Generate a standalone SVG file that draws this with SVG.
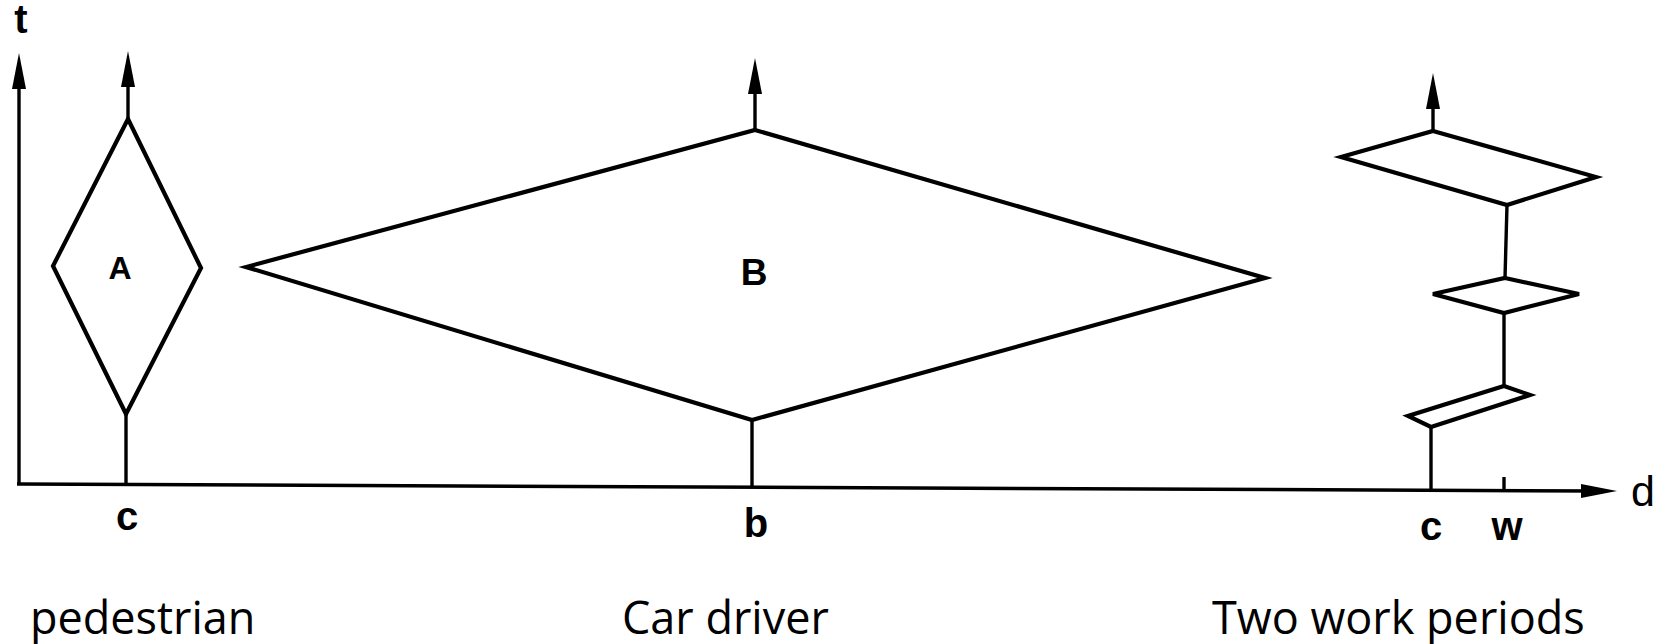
<svg xmlns="http://www.w3.org/2000/svg" width="1666" height="644" viewBox="0 0 1666 644">
  <style>
    .shape { fill: none; stroke: #000; stroke-width: 4.2; stroke-linejoin: miter; }
    .conn { fill: none; stroke: #000; stroke-width: 3.4; }
    .arrow { marker-end: url(#arr); }
    .lbl { font-family: "Liberation Sans", Arial, sans-serif; font-weight: bold; fill: #000; text-anchor: middle; }
    .cap { font-family: "Open Sans", "Noto Sans", sans-serif; font-size: 45px; fill: #000; }
  </style>
  <defs>
    <marker id="arr" viewBox="0 0 36 16" refX="16" refY="8" markerWidth="36" markerHeight="16" markerUnits="userSpaceOnUse" orient="auto">
      <path d="M0,1 L36,8 L0,15 z" fill="#000"/>
    </marker>
  </defs>
  <rect width="1666" height="644" fill="#fff"/>

  <g id="connectors">
    <!-- axes -->
    <line class="conn arrow" x1="19" y1="484" x2="19" y2="73"/>
    <line class="conn arrow" x1="17" y1="484" x2="1597" y2="491"/>
    <!-- pedestrian -->
    <line class="conn arrow" x1="128" y1="119" x2="128" y2="71"/>
    <line class="conn" x1="126" y1="414" x2="126" y2="484"/>
    <!-- car driver -->
    <line class="conn arrow" x1="755" y1="130" x2="755" y2="78"/>
    <line class="conn" x1="752" y1="420" x2="752" y2="487"/>
    <!-- two work periods -->
    <line class="conn arrow" x1="1433" y1="131" x2="1433" y2="93"/>
    <line class="conn" x1="1507" y1="205" x2="1505" y2="278"/>
    <line class="conn" x1="1504" y1="313" x2="1504" y2="386"/>
    <line class="conn" x1="1431" y1="427" x2="1431" y2="490"/>
    <line class="conn" x1="1504" y1="477" x2="1504" y2="491"/>
  </g>

  <g id="axis-labels">
    <text class="lbl" x="21" y="33" font-size="40">t</text>
    <text x="1643" y="506" font-family="Liberation Sans, Arial, sans-serif" font-size="43" text-anchor="middle">d</text>
  </g>

  <g id="node-A">
    <polygon class="shape" points="128,119 201,268 126,414 53,266"/>
    <text class="lbl" x="120" y="279" font-size="32">A</text>
  </g>

  <g id="node-B">
    <polygon class="shape" points="755,130 1265,278 752,420 246,267"/>
    <text class="lbl" x="754" y="285" font-size="37">B</text>
  </g>

  <g id="node-work1">
    <polygon class="shape" points="1433,131 1596,177 1507,205 1341,157"/>
  </g>
  <g id="node-work-break">
    <polygon class="shape" points="1505,278 1579,294 1504,313 1433,294"/>
  </g>
  <g id="node-work2">
    <polygon class="shape" points="1504,386 1530,395 1431,427 1408,416"/>
  </g>

  <g id="tick-labels">
    <text class="lbl" x="127" y="530" font-size="40">c</text>
    <text class="lbl" x="756" y="537" font-size="40">b</text>
    <text class="lbl" x="1431" y="540" font-size="40">c</text>
    <text class="lbl" x="1507" y="540" font-size="40">w</text>
  </g>

  <g id="captions">
    <text class="cap" x="30" y="634">pedestrian</text>
    <text class="cap" x="622" y="634">Car driver</text>
    <text class="cap" x="1212" y="634">Two work periods</text>
  </g>
</svg>
